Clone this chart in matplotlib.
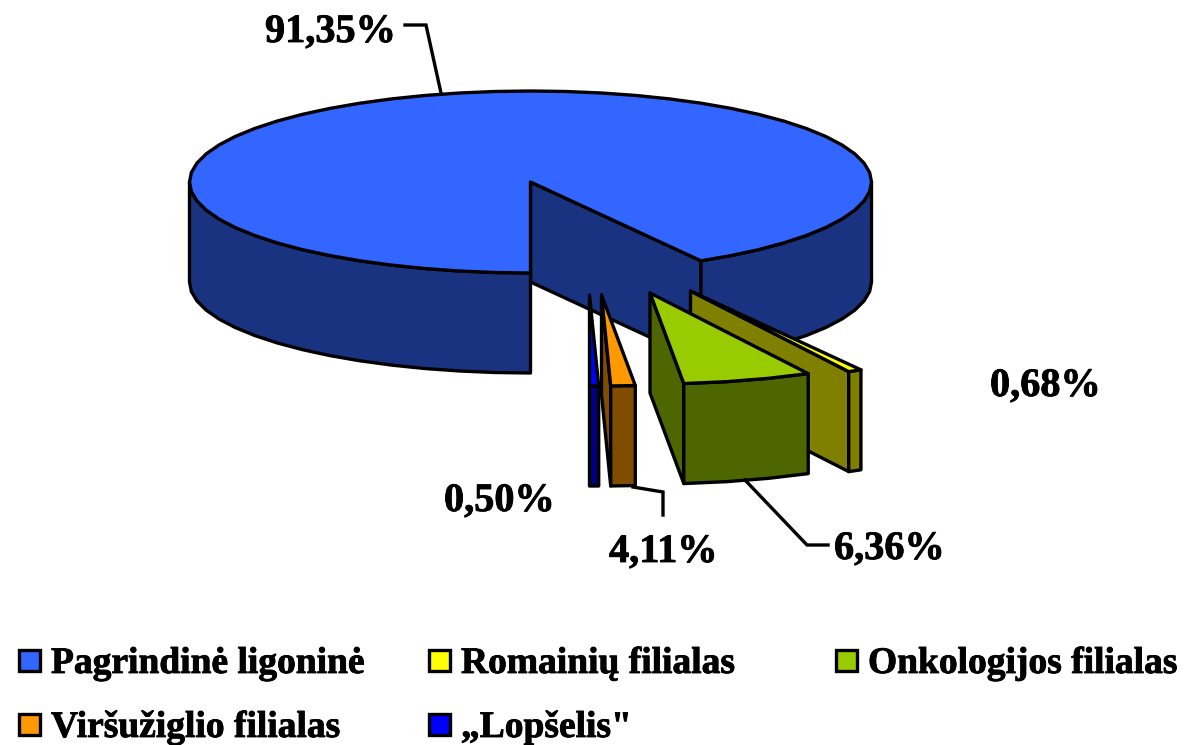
import matplotlib
matplotlib.use('Agg')
import matplotlib.pyplot as plt
from matplotlib.patches import Polygon, Rectangle
import matplotlib.patheffects as pe
import numpy as np

# slices in the order they are drawn, back to front
names = ['Pagrindinė ligoninė', 'Romainių filialas', 'Onkologijos filialas',
         'Viršužiglio filialas', '„Lopšelis"']
value_labels = ['91,35%', '0,68%', '6,36%', '4,11%', '0,50%']
# share of the circle each slice really takes in the drawing
drawn_shares = [91.67, 0.65, 6.10, 1.15, 0.43]
top_colors = ['#3366FF', '#FFFF00', '#99CC00', '#FF9900', '#0000FF']
side_colors = ['#1A3380', '#808000', '#4D6600', '#804D00', '#000080']

# pie geometry in pixels of the output image
cx, cy = 530.5, 182
rx, ry = 341, 91
depth = 100
explode_x = [0, 160, 119.5, 71, 59]
explode_y = [0, 109, 111, 113, 113]
lw = 2.4

fig = plt.figure(figsize=(11.86, 7.45), dpi=100)
ax = fig.add_axes([0, 0, 1, 1])
ax.set_xlim(0, 1186)
ax.set_ylim(745, 0)
ax.axis('off')


def arc_points(t0, t1, ox, oy):
    # angles in degrees, counted from straight down towards the right
    n = max(int(abs(t1 - t0) / 6), 1)
    t = np.radians(np.linspace(t0, t1, n + 1))
    return np.column_stack([ox + rx * np.sin(t), oy + ry * np.cos(t)])


def add_poly(points, color):
    ax.add_patch(Polygon(points, closed=True, facecolor=color, edgecolor='black',
                         linewidth=lw, joinstyle='round'))


def draw_slice(t0, t1, ox, oy, top, side):
    apex = np.array([[ox, oy]])
    down = np.array([0, depth])
    # radial face that looks at the viewer
    if 0 < t0 < 180:
        edge = np.vstack([apex, arc_points(t0, t0, ox, oy)[:1]])
        add_poly(np.vstack([edge, edge[::-1] + down]), side)
    # outer wall, only the front half shows
    for a, b in [(t0, min(t1, 90)), (max(t0, 270), t1)]:
        if b > a:
            wall = arc_points(a, b, ox, oy)
            add_poly(np.vstack([wall, wall[::-1] + down]), side)
    add_poly(np.vstack([apex, arc_points(t0, t1, ox, oy)]), top)


# the small slices sit in the gap right of straight down
small_order = [4, 3, 2, 1]
start = 0
angles = {}
for i in small_order:
    angles[i] = (start, start + drawn_shares[i] * 3.6)
    start += drawn_shares[i] * 3.6
angles[0] = (start, 360)

for i in range(len(names)):
    t0, t1 = angles[i]
    draw_slice(t0, t1, cx + explode_x[i], cy + explode_y[i], top_colors[i], side_colors[i])

# leader lines
leaders = [([405, 426, 441], [25, 25, 93]),
           ([633, 663, 663], [487, 492, 515]),
           ([745, 807, 828], [480, 545, 545])]
for lx, ly in leaders:
    ax.plot(lx, ly, color='black', lw=lw, solid_joinstyle='miter')

# value labels
font = {'family': 'Liberation Serif', 'weight': 'bold', 'color': 'black'}
heavier = [pe.withStroke(linewidth=0.6, foreground='black')]
label_x = [265, 990, 834, 609, 444]
label_y = [42, 396, 559, 562, 511]
for s, x, y in zip(value_labels, label_x, label_y):
    ax.text(x, y, s, fontsize=29, va='baseline', ha='left', path_effects=heavier, **font)

# legend
legend_x = [18, 428, 835, 18, 428]
legend_y = [673, 673, 673, 737, 737]
for i in range(len(names)):
    ax.add_patch(Rectangle((legend_x[i] + 0.5, legend_y[i] - 23.5), 21, 21, facecolor=top_colors[i],
                           edgecolor='black', linewidth=lw))
    ax.text(legend_x[i] + 33, legend_y[i], names[i], fontsize=27, va='baseline', ha='left',
            path_effects=heavier, **font)

fig.savefig('out.png', dpi=100)
